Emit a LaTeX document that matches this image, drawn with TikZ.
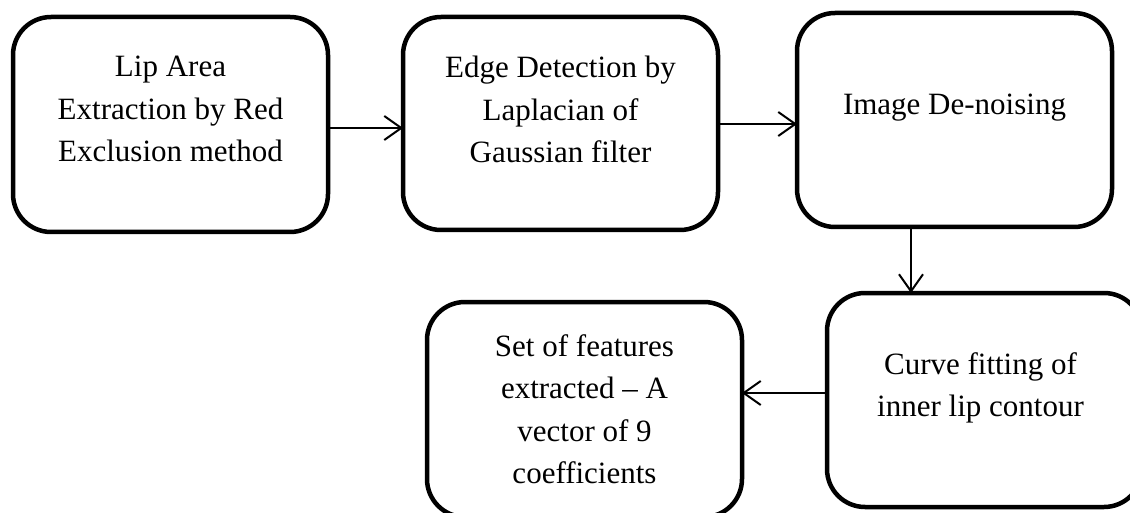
\documentclass[tikz,border=0pt]{standalone}
\usepackage{fontspec}
\setmainfont{Liberation Serif}
\usetikzlibrary{arrows.meta}

\tikzset{
  stage/.style={draw=black, line width=4.5pt, rounded corners=38pt, outer sep=0pt,
                minimum width=315pt, inner sep=0pt},
  label text/.style={anchor=north, align=center, inner sep=0pt,
                     font=\fontsize{31pt}{42.5pt}\selectfont},
  flow/.style={line width=2pt, -{Straight Barb[length=17pt,width=24pt]}}
}

\begin{document}
\begin{tikzpicture}[x=1pt, y=-1pt]
  \useasboundingbox (0,0) rectangle (1130,513);
  \clip (0,0) rectangle (1130,513);

  % processing stages
  \node[stage, minimum height=215pt] (b1) at (170.5,124.5) {};
  \node[stage, minimum height=213pt] (b2) at (560.5,123.5) {};
  \node[stage, minimum height=214pt] (b3) at (954.5,120) {};
  \node[stage, minimum height=214pt] (b4) at (984.5,400) {};
  \node[stage, minimum height=215pt] (b5) at (584.5,409.5) {};

  % stage captions
  \node[label text] (t1) at (170.5,56) {Lip Area\\Extraction by Red\\Exclusion method};
  \node[label text] (t2) at (560.5,56) {Edge Detection by\\Laplacian of\\Gaussian filter};
  \node[label text] (t3) at (954.5,94) {Image De-noising};
  \node[label text] (t4) at (980.5,352) {Curve fitting of\\inner lip contour};
  \node[label text] (t5) at (584.5,334) {Set of features\\extracted -- A\\vector of 9\\coefficients};

  % flow between stages
  \draw[flow] (b1.east |- 0,128) -- (b2.west |- 0,128);
  \draw[flow] (b2.east |- 0,124) -- (b3.west |- 0,124);
  \draw[flow] (b3.south -| 911,0) -- (b4.north -| 911,0);
  \draw[flow] (b4.west |- 0,393) -- (b5.east |- 0,393);
\end{tikzpicture}
\end{document}
